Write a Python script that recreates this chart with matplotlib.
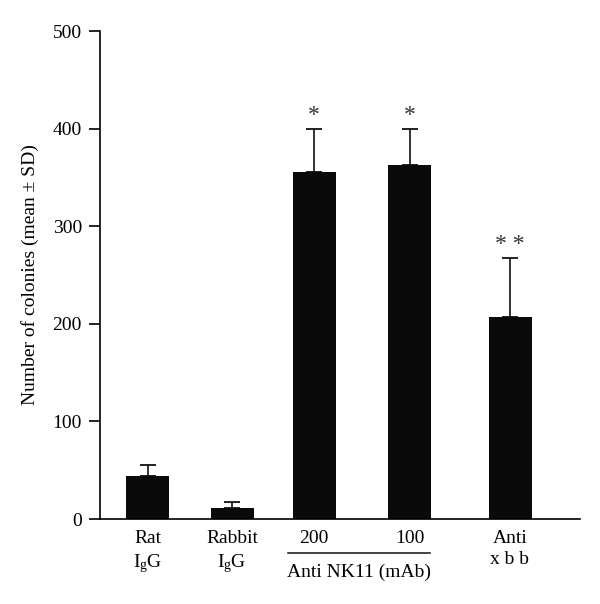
import numpy as np
import matplotlib.pyplot as plt
from matplotlib import transforms

plt.rcParams['font.family'] = ['Liberation Serif', 'DejaVu Serif']
plt.rcParams['mathtext.fontset'] = 'custom'
plt.rcParams['mathtext.rm'] = 'Liberation Serif'
plt.rcParams['mathtext.it'] = 'Liberation Serif'

# data
labels = ["Rat\nI$_\\mathrm{g}$G", "Rabbit\nI$_\\mathrm{g}$G", "200", "100", "Anti\nx b b"]
means = [44, 11, 356, 363, 207]
sd = [11, 6, 44, 37, 60]
marks = ["", "", "*", "*", "* *"]
group_label = "Anti NK11 (mAb)"
yticks = [0, 100, 200, 300, 400, 500]

# layout (x in pixel-like units along the axis)
xpos = [47.5, 132, 214, 309.5, 410]
bar_w = 43

fig = plt.figure(figsize=(6, 6.04), dpi=100)
ax = fig.add_axes([100/600, 1 - 519/604, 480/600, 488/604])

ax.bar(xpos, means, width=bar_w, color='#0a0a0a', zorder=2)
ax.errorbar(xpos, means, yerr=[np.zeros(len(sd)), sd], fmt='none',
            ecolor='#111111', elinewidth=1.2, capsize=6, capthick=1.3, zorder=1)

for x, m, s, t in zip(xpos, means, sd, marks):
    if t:
        ax.text(x, m + s + 3, t, ha='center', va='bottom', fontsize=17, color='#333333')

ax.set_xlim(0, 480)
ax.set_ylim(0, 500)
ax.set_yticks(yticks)
ax.tick_params(axis='y', direction='out', length=8, width=1.2, labelsize=14, pad=5)
ax.set_xticks(xpos)
ax.set_xticklabels(labels, fontsize=14, linespacing=1.3)
ax.tick_params(axis='x', length=0, pad=8)
for lab in ax.get_xticklabels():
    lab.set_verticalalignment('top')

ax.spines['top'].set_visible(False)
ax.spines['right'].set_visible(False)
ax.spines['left'].set_linewidth(1.2)
ax.spines['bottom'].set_linewidth(1.2)

ax.set_ylabel("Number of colonies (mean \u00b1 SD)", fontsize=14, labelpad=10)

# group bracket under the 200 / 100 bars
trans = transforms.blended_transform_factory(ax.transData, ax.transAxes)
y_line = -(553 - 519) / 488
ax.plot([188, 330], [y_line, y_line], color='#111111', lw=1.1, transform=trans, clip_on=False)
ax.text((188 + 330) / 2, y_line - 0.022, group_label, ha='center', va='top',
        fontsize=14, transform=trans)

fig.savefig("out.png", dpi=100)
